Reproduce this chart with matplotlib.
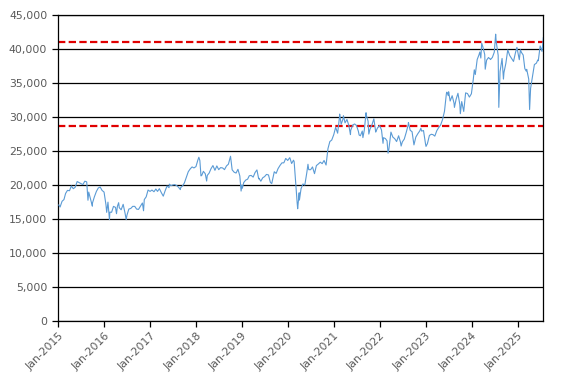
import matplotlib
matplotlib.use("Agg")
import matplotlib.pyplot as plt
import matplotlib.dates as mdates
from matplotlib.ticker import FuncFormatter
import pandas as pd

# Semi-monthly readings (15th, month end) per year
v2015 = [16800, 17650, 17900, 18800, 19250, 19200, 19900, 19500, 19700, 20550, 20400, 20250,
         20100, 20600, 20500, 19000, 17900, 17400, 18300, 19100, 19600, 19750, 19250, 19000]
v2016 = [17150, 17520, 16050, 16030, 16900, 16750, 16900, 16700, 16400, 17200, 15900, 15600,
         16500, 16600, 16900, 16900, 16500, 16450, 16900, 17400, 17900, 18300, 19300, 19100]
v2017 = [19300, 19050, 19450, 19100, 19500, 18900, 18400, 19200, 19900, 19650, 19950, 20050,
         20100, 19950, 19700, 19650, 19900, 20350, 21150, 22000, 22400, 22700, 22550, 22750]
v2018 = [23700, 23650, 21450, 22050, 21700, 21450, 21800, 22450, 22900, 22200, 22850, 22300,
         22600, 22550, 22300, 22850, 23100, 24100, 22270, 21920, 21800, 22350, 21370, 20015]
v2019 = [20400, 20770, 20900, 21400, 21450, 21200, 21870, 22260, 21060, 20600, 21100, 21280,
         21600, 21520, 20420, 20700, 21990, 21750, 22450, 22930, 23300, 23300, 23950, 23650]
v2020 = [24050, 23200, 23690, 21140, 17430, 18900, 19500, 20190, 20040, 21880, 22300, 22290,
         22700, 21710, 22900, 23140, 23400, 23180, 23650, 22980, 25390, 26430, 26650, 27440]
v2021 = [28520, 27660, 30080, 28970, 29770, 29180, 29680, 28810, 28080, 28860, 29020, 28790,
         27940, 27280, 27980, 28090, 30380, 29450, 28230, 28890, 29780, 27820, 28460, 28790]
v2022 = [28120, 27000, 26870, 26530, 25350, 27820, 27090, 26850, 26430, 27280, 26330, 26390,
         26790, 27800, 28870, 28090, 27880, 25940, 27090, 27590, 27990, 27970, 28050, 26090]
v2023 = [26120, 27330, 27500, 27450, 27230, 28040, 28490, 28860, 29630, 30890, 33480, 33190,
         32390, 33170, 32060, 32620, 33530, 31860, 32310, 30860, 33590, 33490, 32970, 33460]
v2024 = [35580, 36290, 38490, 39170, 38710, 40370, 39230, 38400, 38790, 38490, 38810, 39580,
         41190, 39100, 36730, 38650, 36580, 37920, 39910, 39080, 38640, 38210, 39460, 39890]
v2025 = [38470, 39570, 39150, 37160, 37050, 35620, 34270, 36050, 37750, 37960, 38310, 40490,
         39680]

# Extra daily points (spikes, swings, endpoints)
extra_dates = ["2015-01-05", "2015-08-25", "2015-09-29", "2016-01-21", "2016-02-12",
               "2016-04-08", "2016-04-25", "2016-06-24", "2016-11-09", "2017-06-02",
               "2017-08-29", "2018-01-23", "2018-02-09", "2018-03-26", "2018-10-02",
               "2018-12-25", "2019-01-04", "2019-05-14", "2019-08-26", "2020-01-17",
               "2020-02-20", "2020-03-19", "2020-04-02", "2020-06-09", "2021-02-16",
               "2021-03-18", "2021-05-13", "2021-07-21", "2021-08-20", "2021-09-14",
               "2021-10-06", "2021-12-01", "2022-01-27", "2022-03-08", "2022-06-20",
               "2022-08-17", "2022-11-24", "2023-01-04", "2023-06-19", "2023-07-03",
               "2023-08-18", "2023-10-04", "2024-01-23", "2024-03-07", "2024-03-22",
               "2024-04-19", "2024-05-29", "2024-07-11", "2024-08-05", "2024-09-11",
               "2024-12-27", "2025-01-24", "2025-02-27", "2025-03-11", "2025-04-07",
               "2025-06-11", "2025-07-25"]
extra_values = [17100, 17800, 16930, 16020, 14950,
                15820, 17440, 14950, 16250, 20170,
                19360, 24120, 21380, 20620, 24270,
                19150, 19560, 20950, 20260, 24040,
                23480, 16550, 17820, 23090, 30470,
                30220, 27450, 27390, 27010, 30670,
                27530, 27900, 26170, 24720, 25770,
                29220, 28380, 25720, 33700, 33750,
                31450, 30530, 36980, 39600, 40890,
                37070, 38550, 42220, 31460, 35620,
                40280, 39930, 37250, 36790, 31140,
                38420, 41700]

upper_level = 41000
lower_level = 28650
y_ticks = list(range(0, 45001, 5000))
years = list(range(2015, 2026))

# Build series
yearly = [v2015, v2016, v2017, v2018, v2019, v2020, v2021, v2022, v2023, v2024, v2025]
dates, vals = [], []
for yr, vlist in zip(years, yearly):
    for i, v in enumerate(vlist):
        m = i // 2 + 1
        d = pd.Timestamp(yr, m, 15) if i % 2 == 0 else pd.Timestamp(yr, m, 1) + pd.offsets.MonthEnd(0)
        dates.append(d)
        vals.append(v)
dates += [pd.Timestamp(d) for d in extra_dates]
vals += extra_values
s = pd.Series(vals, index=dates).sort_index()

fig = plt.figure(figsize=(5.71, 3.85), dpi=100)
ax = fig.add_axes([0.1021, 0.1655, 0.9515 - 0.1021, 0.9603 - 0.1655])

for yv in y_ticks:
    ax.axhline(yv, color="black", lw=0.9, zorder=1)
for lv in (upper_level, lower_level):
    ax.axhline(lv, color="#E00000", lw=1.6, ls=(0, (3.3, 1.5)), zorder=2)
ax.plot(s.index, s.values, color="#5B9BD5", lw=0.8, zorder=3)

ax.set_ylim(0, 45000)
ax.set_xlim(pd.Timestamp("2015-01-01"), pd.Timestamp("2025-07-25"))
ax.set_yticks(y_ticks)
ax.yaxis.set_major_formatter(FuncFormatter(lambda v, p: f"{int(v):,}"))
ax.set_xticks([pd.Timestamp(y, 1, 1) for y in years])
ax.xaxis.set_major_formatter(mdates.DateFormatter("%b-%Y"))
for lab in ax.get_xticklabels():
    lab.set_rotation(45)
    lab.set_ha("right")
    lab.set_rotation_mode("anchor")

ax.tick_params(axis="both", direction="out", length=4, width=0.9, color="black",
               labelsize=7.8, labelcolor="#595959")
ax.tick_params(axis="y", pad=4)
ax.tick_params(axis="x", pad=3)
for sp in ax.spines.values():
    sp.set_color("black")
    sp.set_linewidth(0.9)

fig.savefig("out.png", dpi=100)
